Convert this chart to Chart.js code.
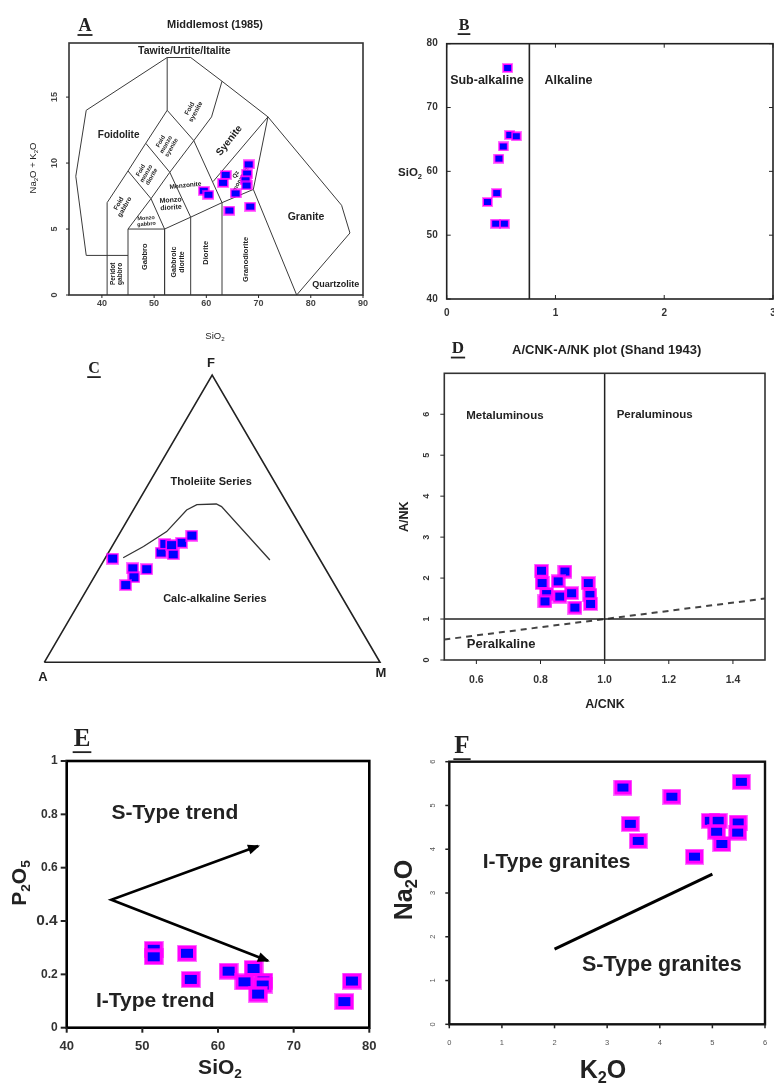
<!DOCTYPE html>
<html>
<head>
<meta charset="utf-8">
<script src="https://cdn.jsdelivr.net/npm/chart.js@4.4.1/dist/chart.umd.min.js"></script>
<style>
  body { margin: 0; background: #fff; width: 774px; height: 1084px; position: relative; overflow: hidden; }
  canvas { position: absolute; }
</style>
</head>
<body>
<canvas id="chartA"></canvas>
<canvas id="chartB"></canvas>
<canvas id="chartC"></canvas>
<canvas id="chartD"></canvas>
<canvas id="chartE"></canvas>
<canvas id="chartF"></canvas>
<script>
// ---- A: TAS (Middlemost) ----
const tasSiO2 = [59.5, 60.4, 63.7, 63.2, 65.6, 64.4, 68.1, 67.8, 67.5, 67.7, 68.4];
const tasAlkali = [7.9, 7.6, 9.1, 8.5, 7.7, 6.4, 9.9, 9.2, 8.7, 8.3, 6.7];
const tasFields = [
  [[45, 3], [37, 3], [35, 9], [37, 14], [52.5, 18], [57, 18], [63, 16.2], [71.8, 13.5], [85.9, 6.8], [87.5, 4.7], [77.3, 0]],
  [[41, 0], [41, 7], [45, 9.4], [48.4, 11.5], [52.5, 14], [52.5, 18]],
  [[45, 0], [45, 5], [52, 5], [52, 0]],
  [[52, 5], [57, 5.9], [63, 7], [69, 8], [71.8, 13.5]],
  [[57, 0], [57, 5.9]],
  [[63, 0], [63, 7]],
  [[77.3, 0], [69, 8]],
  [[45, 5], [49.4, 7.3], [52, 5]],
  [[45, 9.4], [49.4, 7.3], [53, 9.3], [57, 5.9]],
  [[48.4, 11.5], [53, 9.3], [57.6, 11.7], [63, 7]],
  [[52.5, 14], [57.6, 11.7], [61, 13.5], [63, 16.2]],
  [[71.8, 13.5], [61.3, 8.6]]
];
const xTicksA = [40, 50, 60, 70, 80, 90];
const yTicksA = [0, 5, 10, 15];

// ---- B: SiO2 vs alkalinity ----
const bRatio = [0.56, 0.58, 0.64, 0.52, 0.48, 0.46, 0.375, 0.45, 0.53];
const bSiO2 = [76.2, 65.7, 65.5, 63.9, 62.0, 56.6, 55.2, 51.8, 51.8];
const bDivide = [[0.76, 40], [0.76, 80]];
const xTicksB = [0, 1, 2, 3];
const yTicksB = [40, 50, 60, 70, 80];

// ---- C: AFM ternary (F, A, M in %) ----
const afmF = [36.1, 32.7, 32.4, 29.6, 26.9, 38.2, 41.2, 37.6, 41.6, 44.1, 40.8];
const afmA = [61.6, 57.3, 53.3, 58.5, 62.3, 46.1, 43.5, 42.8, 38.3, 34.0, 41.7];
const afmM = [2.3, 10.0, 14.3, 11.9, 10.8, 15.7, 15.3, 19.6, 20.1, 21.9, 17.5];
const divideF = [36.4, 40.3, 45.5, 53.0, 54.9, 55.1, 54.2, 35.6];
const divideA = [58.3, 50.3, 40.8, 31.1, 27.1, 21.2, 20.1, 15.0];
const divideM = [5.3, 9.4, 13.7, 15.9, 18.0, 23.7, 25.7, 49.4];
const triangleF = [0, 0, 100, 0];
const triangleA = [100, 0, 0, 100];
const triangleM = [0, 100, 0, 0];

// ---- D: Shand A/CNK - A/NK ----
const acnk = [0.803, 0.876, 0.805, 0.855, 0.819, 0.814, 0.86, 0.897, 0.949, 0.954, 0.956, 0.907];
const ank = [2.18, 2.16, 1.88, 1.92, 1.61, 1.43, 1.55, 1.63, 1.88, 1.59, 1.37, 1.28];
const xTicksD = [0.6, 0.8, 1.0, 1.2, 1.4];
const xTickLabelsD = ['0.6', '0.8', '1.0', '1.2', '1.4'];
const yTicksD = [0, 1, 2, 3, 4, 5, 6];

// ---- E: P2O5 vs SiO2 ----
const eSiO2 = [51.5, 51.5, 55.9, 56.4, 61.4, 63.5, 64.7, 66.0, 65.9, 65.3, 77.7, 76.7];
const eP2O5 = [0.294, 0.266, 0.279, 0.181, 0.212, 0.172, 0.222, 0.175, 0.16, 0.126, 0.175, 0.098];
const trendArrows = [[65.3, 0.681], [45.9, 0.48], [66.6, 0.251]];
const xTicksE = [40, 50, 60, 70, 80];
const yTicksE = [0, 0.2, 0.4, 0.6, 0.8, 1];
const yTickLabelsE = ['0', '0.2', '0.4', '0.6', '0.8', '1'];

// ---- F: Na2O vs K2O ----
const fK2O = [3.30, 4.23, 5.55, 3.44, 3.59, 4.66, 4.96, 5.11, 5.08, 5.18, 5.49, 5.48];
const fNa2O = [5.41, 5.20, 5.54, 4.58, 4.19, 3.83, 4.65, 4.65, 4.40, 4.12, 4.61, 4.38];
const isDivide = [[2, 1.72], [5, 3.43]];
const ticksF = [0, 1, 2, 3, 4, 5, 6];

// ---------------------------------------------------------
const INK = '#222';
const SANS = '"Liberation Sans", Arial, sans-serif';
const SERIF = '"Liberation Serif", "Times New Roman", serif';

function marker(w, h, b) {
  const c = document.createElement('canvas');
  c.width = w; c.height = h;
  const g = c.getContext('2d');
  g.fillStyle = 'rgba(255,0,255,0.55)';
  g.fillRect(0, 0, w, h);
  g.fillStyle = '#ff00ff';
  g.fillRect(1, 1, w - 2, h - 2);
  g.fillStyle = '#0000ff';
  g.fillRect(b, b, w - 2 * b, h - 2 * b);
  return c;
}

function toXY(f, a, m) {
  const s = f + a + m;
  return { x: (m + f / 2) / s, y: (f / s) * Math.sqrt(3) / 2 };
}

function pairs(list) {
  return list.map(p => ({ x: p[0], y: p[1] }));
}

function pointSet(xs, ys, img) {
  return {
    data: xs.map((x, i) => ({ x, y: ys[i] })),
    pointStyle: img, pointRadius: 6, showLine: false, clip: false
  };
}

function lineSet(data, opts) {
  return Object.assign({
    data, showLine: true, pointRadius: 0, borderColor: '#333',
    borderWidth: 1, tension: 0, fill: false, clip: false
  }, opts || {});
}

function richText(ctx, str, x, y, t) {
  const size = t.size, wt = t.weight || 'bold', fam = t.family || SANS;
  const font = `${wt} ${size}px ${fam}`;
  const subFont = `${wt} ${size * 0.65}px ${fam}`;
  const parts = str.split(/_(\d)/);
  const widths = parts.map((p, i) => {
    ctx.font = i % 2 ? subFont : font;
    return ctx.measureText(p).width;
  });
  const total = widths.reduce((s, w) => s + w, 0);
  let cx = x;
  if ((t.align || 'center') === 'center') cx = x - total / 2;
  else if (t.align === 'right') cx = x - total;
  ctx.textBaseline = 'middle';
  ctx.textAlign = 'left';
  parts.forEach((p, i) => {
    ctx.font = i % 2 ? subFont : font;
    ctx.fillText(p, cx, i % 2 ? y + size * 0.3 : y);
    cx += widths[i];
  });
  return total;
}

function putText(chart, t) {
  const ctx = chart.ctx;
  let x, y;
  if (t.at) {
    x = chart.scales.x.getPixelForValue(t.at[0]);
    y = chart.scales.y.getPixelForValue(t.at[1]);
  } else {
    x = t.px[0]; y = t.px[1];
  }
  ctx.save();
  ctx.translate(x, y);
  if (t.rot) ctx.rotate(t.rot * Math.PI / 180);
  ctx.fillStyle = t.color || INK;
  const lines = String(t.text).split('\n');
  const lh = t.size * 1.05;
  lines.forEach((ln, i) => {
    const w = richText(ctx, ln, 0, (i - (lines.length - 1) / 2) * lh, t);
    if (t.underline) ctx.fillRect(-w / 2 - 1, t.size * 0.45, w + 2, 1.8);
  });
  ctx.restore();
}

function seg(ctx, x1, y1, x2, y2) {
  ctx.beginPath(); ctx.moveTo(x1, y1); ctx.lineTo(x2, y2); ctx.stroke();
}

const decorConf = {};

const decor = {
  id: 'decor',
  beforeDatasetsDraw(chart) {
    const o = decorConf[chart.canvas.id];
    (o.texts || []).forEach(t => putText(chart, t));
  },
  afterDatasetsDraw(chart) {
    const o = decorConf[chart.canvas.id];
    const ctx = chart.ctx, a = chart.chartArea;
    const sx = chart.scales.x, sy = chart.scales.y;
    ctx.save();
    if (o.frame) {
      ctx.strokeStyle = o.frame.color;
      ctx.lineWidth = o.frame.width;
      ctx.strokeRect(a.left, a.top, a.right - a.left, a.bottom - a.top);
    }
    const xt = o.xTicks;
    if (xt) {
      ctx.strokeStyle = xt.markColor || INK;
      ctx.lineWidth = xt.lw || 1;
      xt.values.forEach((v, i) => {
        const px = sx.getPixelForValue(v);
        const s = xt.inward ? -xt.len : xt.len;
        if (xt.len) seg(ctx, px, a.bottom, px, a.bottom + s);
        if (xt.mirror) seg(ctx, px, a.top, px, a.top - s);
        if (xt.labels) putText(chart, {
          text: xt.labels[i], px: [px, a.bottom + xt.off],
          size: xt.size, weight: xt.weight, color: xt.color
        });
      });
    }
    const yt = o.yTicks;
    if (yt) {
      ctx.strokeStyle = yt.markColor || INK;
      ctx.lineWidth = yt.lw || 1;
      yt.values.forEach((v, i) => {
        const py = sy.getPixelForValue(v);
        const s = yt.inward ? yt.len : -yt.len;
        if (yt.len) seg(ctx, a.left, py, a.left + s, py);
        if (yt.mirror) seg(ctx, a.right, py, a.right - s, py);
        if (yt.labels) putText(chart, {
          text: yt.labels[i], px: [a.left - yt.off, py], rot: yt.rot,
          align: yt.rot ? 'center' : 'right',
          size: yt.sizes ? yt.sizes[i] : yt.size, weight: yt.weight, color: yt.color
        });
      });
    }
    (o.heads || []).forEach(h => {
      const x1 = sx.getPixelForValue(h[0][0]), y1 = sy.getPixelForValue(h[0][1]);
      const x2 = sx.getPixelForValue(h[1][0]), y2 = sy.getPixelForValue(h[1][1]);
      const ang = Math.atan2(y2 - y1, x2 - x1);
      ctx.save();
      ctx.translate(x2, y2);
      ctx.rotate(ang);
      ctx.fillStyle = '#000';
      ctx.beginPath();
      ctx.moveTo(2, 0); ctx.lineTo(-10, -5); ctx.lineTo(-10, 5); ctx.closePath();
      ctx.fill();
      ctx.restore();
    });
    (o.labels || []).forEach(t => putText(chart, t));
    ctx.restore();
  }
};

function panel(id, box, pad, xr, yr, datasets, conf) {
  const el = document.getElementById(id);
  el.width = box[2]; el.height = box[3];
  el.style.left = box[0] + 'px';
  el.style.top = box[1] + 'px';
  decorConf[id] = conf;
  return new Chart(el, {
    type: 'scatter',
    data: { datasets },
    options: {
      responsive: false,
      animation: false,
      events: [],
      layout: { padding: pad, autoPadding: false },
      scales: {
        x: { type: 'linear', display: false, min: xr[0], max: xr[1] },
        y: { type: 'linear', display: false, min: yr[0], max: yr[1] }
      },
      plugins: { legend: { display: false }, tooltip: { enabled: false } }
    },
    plugins: [decor]
  });
}

// ---------- Panel A ----------
panel('chartA', [0, 0, 390, 345], { left: 69, right: 27, top: 43, bottom: 50 }, [33.7, 90], [0, 19.1],
  [pointSet(tasSiO2, tasAlkali, marker(12, 10, 2))]
    .concat(tasFields.map(f => lineSet(pairs(f), { borderColor: '#3a3a3a', borderWidth: 1 }))),
  {
    frame: { color: '#333', width: 1.6 },
    xTicks: { values: xTicksA, labels: xTicksA, len: 3, off: 9, size: 9, weight: 'bold', color: '#444' },
    yTicks: { values: yTicksA, labels: yTicksA, len: 3, off: 14, rot: -90, size: 9, weight: 'bold', color: '#444' },
    texts: [
      { text: 'Tawite/Urtite/Italite', at: [55.8, 18.45], size: 10.5 },
      { text: 'Foidolite', at: [43.2, 12.1], size: 10 },
      { text: 'Foid\nsyenite', at: [57.4, 14.0], size: 6.5, rot: -62 },
      { text: 'Foid\nmonzo\nsyenite', at: [52.3, 11.4], size: 6, rot: -60 },
      { text: 'Foid\nmonzo\ndiorite', at: [48.5, 9.2], size: 6, rot: -60 },
      { text: 'Foid\ngabbro', at: [43.8, 6.8], size: 6.5, rot: -60 },
      { text: 'Syenite', at: [64.4, 11.7], size: 10, rot: -52 },
      { text: 'Monzonite', at: [56.0, 8.3], size: 6.5, rot: -6 },
      { text: 'Qz\nmonzonite', at: [66.2, 9.0], size: 6, rot: -60 },
      { text: 'Monzo\ndiorite', at: [53.2, 6.9], size: 7, rot: -4 },
      { text: 'Monzo\ngabbro', at: [48.5, 5.6], size: 5.5, rot: -4 },
      { text: 'Granite', at: [79.1, 5.9], size: 10.5 },
      { text: 'Quartzolite', at: [84.8, 0.76], size: 9 },
      { text: 'Peridot\ngabbro', at: [42.9, 1.6], size: 6.5, rot: -90 },
      { text: 'Gabbro', at: [48.2, 2.9], size: 7.5, rot: -90 },
      { text: 'Gabbroic\ndiorite', at: [54.6, 2.5], size: 7, rot: -90 },
      { text: 'Diorite', at: [60.0, 3.2], size: 7.5, rot: -90 },
      { text: 'Granodiorite', at: [67.5, 2.7], size: 7.5, rot: -90 }
    ],
    labels: [
      { text: 'Middlemost (1985)', px: [215, 25], size: 11 },
      { text: 'A', px: [85, 26], size: 18, family: SERIF, underline: true },
      { text: 'Na_2O + K_2O', px: [33, 168], size: 9.5, rot: -90, weight: 'normal' },
      { text: 'SiO_2', px: [215, 336], size: 9.5, weight: 'normal' }
    ]
  });

// ---------- Panel B ----------
panel('chartB', [390, 0, 384, 330], { left: 56.7, right: 1, top: 43.7, bottom: 31 }, [0, 3], [40, 80],
  [pointSet(bRatio, bSiO2, marker(11, 10, 2)),
   lineSet(pairs(bDivide), { borderColor: '#222', borderWidth: 1.6 })],
  {
    frame: { color: '#222', width: 1.6 },
    xTicks: { values: xTicksB, labels: xTicksB, len: 4, inward: true, mirror: true, off: 14, size: 10, weight: 'bold', color: '#333' },
    yTicks: { values: yTicksB, labels: yTicksB, len: 4, inward: true, mirror: true, off: 9, size: 10, weight: 'bold', color: '#333' },
    texts: [
      { text: 'Sub-alkaline', at: [0.37, 74.2], size: 12.5 },
      { text: 'Alkaline', at: [1.12, 74.2], size: 12.5 }
    ],
    labels: [
      { text: 'SiO_2', px: [20, 173], size: 11.5 },
      { text: 'B', px: [74, 26], size: 16, family: SERIF, underline: true }
    ]
  });

// ---------- Panel C ----------
panel('chartC', [0, 340, 390, 350], { left: 44.3, right: 10, top: 35, bottom: 27.7 }, [0, 1], [0, Math.sqrt(3) / 2],
  [pointSet(afmF.map((f, i) => toXY(f, afmA[i], afmM[i]).x), afmF.map((f, i) => toXY(f, afmA[i], afmM[i]).y), marker(13, 12, 2)),
   lineSet(divideF.map((f, i) => toXY(f, divideA[i], divideM[i])), { borderColor: '#333', borderWidth: 1.3 }),
   lineSet(triangleF.map((f, i) => toXY(f, triangleA[i], triangleM[i])), { borderColor: '#222', borderWidth: 1.6 })],
  {
    texts: [
      { text: 'Tholeiite Series', at: [0.497, 0.5435], size: 11 },
      { text: 'Calc-alkaline Series', at: [0.508, 0.191], size: 11 }
    ],
    labels: [
      { text: 'F', px: [211, 23], size: 13 },
      { text: 'A', px: [43, 337], size: 13 },
      { text: 'M', px: [381, 333], size: 13 },
      { text: 'C', px: [94, 29], size: 16, family: SERIF, underline: true }
    ]
  });

// ---------- Panel D ----------
panel('chartD', [390, 330, 384, 385], { left: 54.3, right: 9, top: 43.3, bottom: 55 }, [0.5, 1.5], [0, 7],
  [pointSet(acnk, ank, marker(15, 14, 3)),
   lineSet(pairs([[1, 0], [1, 7]]), { borderColor: '#222', borderWidth: 1.5 }),
   lineSet(pairs([[0.5, 1], [1.5, 1]]), { borderColor: '#222', borderWidth: 1.5 }),
   lineSet(pairs([[0.5, 0.5], [1.5, 1.5]]), { borderColor: '#444', borderWidth: 2, borderDash: [6, 5] })],
  {
    frame: { color: '#333', width: 1.6 },
    xTicks: { values: xTicksD, labels: xTickLabelsD, len: 4, off: 20, size: 10.5, weight: 'bold', color: '#333' },
    yTicks: { values: yTicksD, labels: yTicksD, len: 4, off: 17.6, rot: -90, size: 9, weight: 'bold', color: '#333' },
    texts: [
      { text: 'Metaluminous', at: [0.689, 5.96], size: 11.5 },
      { text: 'Peraluminous', at: [1.156, 5.98], size: 11.5 },
      { text: 'Peralkaline', at: [0.677, 0.37], size: 13 }
    ],
    labels: [
      { text: 'A/CNK-A/NK plot (Shand 1943)', px: [216.7, 20], size: 13 },
      { text: 'D', px: [68, 19], size: 17, family: SERIF, underline: true },
      { text: 'A/NK', px: [15, 186.7], size: 12.5, rot: -90 },
      { text: 'A/CNK', px: [215, 375], size: 12.5 }
    ]
  });

// ---------- Panel E ----------
panel('chartE', [0, 690, 390, 394], { left: 66.7, right: 20.7, top: 71, bottom: 56.3 }, [40, 80], [0, 1],
  [pointSet(eSiO2, eP2O5, marker(20, 17, 4)),
   lineSet(pairs(trendArrows), { borderColor: '#000', borderWidth: 2.6 })],
  {
    frame: { color: '#000', width: 2.6 },
    xTicks: { values: xTicksE, labels: xTicksE, len: 5, off: 19, size: 13, weight: 'bold', color: '#333', lw: 2 },
    yTicks: { values: yTicksE, labels: yTickLabelsE, len: 6, off: 9, size: 12, sizes: [12, 12, 15.5, 12, 12, 12], weight: 'bold', color: '#333', lw: 2 },
    heads: [[trendArrows[1], trendArrows[0]], [trendArrows[1], trendArrows[2]]],
    texts: [
      { text: 'S-Type trend', at: [54.3, 0.805], size: 21 },
      { text: 'I-Type trend', at: [51.7, 0.0975], size: 21 }
    ],
    labels: [
      { text: 'E', px: [82, 50], size: 25, family: SERIF, underline: true },
      { text: 'P_2O_5', px: [20, 193], size: 21, rot: -90 },
      { text: 'SiO_2', px: [220, 378], size: 21 }
    ]
  });

// ---------- Panel F ----------
panel('chartF', [390, 690, 384, 394], { left: 59.3, right: 9, top: 71.7, bottom: 59.7 }, [0, 6], [0, 6],
  [pointSet(fK2O, fNa2O, marker(19, 16, 4)),
   lineSet(pairs(isDivide), { borderColor: '#000', borderWidth: 3 })],
  {
    frame: { color: '#111', width: 2.4 },
    xTicks: { values: ticksF, labels: ticksF, len: 4, off: 19, size: 7.5, weight: 'normal', color: '#555', lw: 1.5 },
    yTicks: { values: ticksF, labels: ticksF, len: 4, off: 16, rot: -90, size: 7.5, weight: 'normal', color: '#555', lw: 1.5 },
    texts: [
      { text: 'I-Type granites', at: [2.04, 3.71], size: 21 },
      { text: 'S-Type granites', at: [4.04, 1.35], size: 21.5 }
    ],
    labels: [
      { text: 'F', px: [72, 57], size: 25, family: SERIF, underline: true },
      { text: 'Na_2O', px: [15, 200], size: 25, rot: -90 },
      { text: 'K_2O', px: [213, 381], size: 25 }
    ]
  });
</script>
</body>
</html>
